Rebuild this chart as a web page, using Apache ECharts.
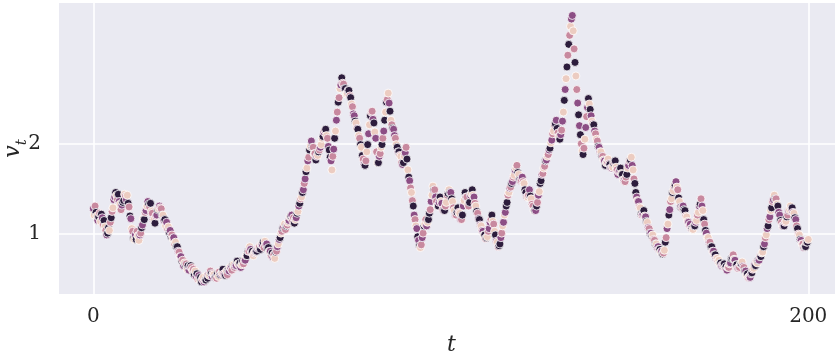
<!DOCTYPE html>
<html>
<head>
<meta charset="utf-8">
<script src="https://cdn.jsdelivr.net/npm/echarts@6/dist/echarts.min.js"></script>
<style>
  html, body { margin: 0; padding: 0; background: #ffffff; }
  #chart { width: 835px; height: 358px; }
</style>
</head>
<body>
<div id="chart"></div>
<script>
// Sampling step of the time grid (t = 0, 0.25, ..., 200)
const T_STEP = 0.25;

// Volatility path v_t, one value per time step (20 values = 5 time units per row)
const V = [
  1.28,1.21,1.31,1.24,1.20,1.15,1.19,1.23,1.14,1.22,1.18,1.10,1.15,1.08,1.04,0.99,1.01,1.07,1.04,1.13,
  1.18,1.25,1.29,1.38,1.41,1.46,1.43,1.38,1.44,1.36,1.33,1.27,1.32,1.35,1.37,1.44,1.42,1.38,1.43,1.34,
  1.30,1.20,1.17,1.06,1.03,0.95,0.94,0.99,0.94,1.03,0.98,0.93,0.99,1.01,1.07,1.10,1.17,1.16,1.24,1.26,
  1.31,1.36,1.33,1.30,1.34,1.25,1.23,1.16,1.16,1.12,1.20,1.21,1.27,1.28,1.31,1.29,1.28,1.21,1.21,1.15,
  1.16,1.09,1.13,1.06,1.08,1.02,1.04,0.97,0.99,0.95,0.96,0.89,0.91,0.86,0.86,0.81,0.80,0.75,0.75,0.70,
  0.71,0.65,0.68,0.66,0.67,0.61,0.65,0.60,0.64,0.65,0.63,0.60,0.61,0.55,0.59,0.53,0.56,0.50,0.54,0.49,
  0.52,0.47,0.50,0.52,0.47,0.49,0.49,0.54,0.51,0.55,0.54,0.59,0.56,0.53,0.56,0.55,0.52,0.52,0.51,0.56,
  0.53,0.58,0.55,0.56,0.57,0.61,0.56,0.55,0.54,0.59,0.55,0.60,0.59,0.63,0.62,0.60,0.66,0.66,0.63,0.65,
  0.65,0.70,0.67,0.66,0.68,0.63,0.66,0.70,0.67,0.71,0.71,0.76,0.76,0.81,0.81,0.86,0.83,0.80,0.81,0.76,
  0.79,0.80,0.81,0.81,0.84,0.85,0.86,0.83,0.88,0.88,0.91,0.85,0.92,0.88,0.89,0.84,0.85,0.81,0.81,0.76,
  0.79,0.74,0.77,0.73,0.80,0.81,0.86,0.89,0.94,0.96,1.01,1.03,1.07,1.08,1.11,1.05,1.09,1.10,1.13,1.15,
  1.19,1.20,1.21,1.15,1.18,1.12,1.16,1.18,1.23,1.25,1.31,1.34,1.39,1.41,1.46,1.49,1.56,1.61,1.69,1.73,
  1.81,1.85,1.93,1.97,2.03,1.96,1.96,1.89,1.89,1.82,1.86,1.87,1.91,1.93,1.96,1.99,2.06,2.08,2.13,2.15,
  2.16,2.09,2.06,1.97,1.93,1.85,1.81,1.71,1.86,1.94,2.06,2.14,2.26,2.35,2.46,2.51,2.61,2.65,2.73,2.67,
  2.66,2.61,2.61,2.55,2.56,2.59,2.59,2.53,2.51,2.44,2.41,2.33,2.31,2.25,2.23,2.17,2.16,2.09,2.06,1.99,
  1.96,1.87,1.83,1.77,1.76,1.81,1.91,1.99,2.11,2.21,2.31,2.35,2.36,2.27,2.23,2.13,2.06,1.91,1.79,1.79,
  1.86,1.89,1.96,1.99,2.06,2.14,2.26,2.35,2.46,2.49,2.56,2.45,2.36,2.26,2.21,2.17,2.16,2.09,2.06,1.99,
  1.96,1.91,1.91,1.87,1.86,1.79,1.77,1.79,1.86,1.90,1.96,1.83,1.71,1.63,1.59,1.51,1.46,1.37,1.31,1.21,
  1.16,1.09,1.06,0.97,0.93,0.87,0.85,0.88,0.96,1.01,1.09,1.11,1.16,1.09,1.13,1.16,1.23,1.27,1.36,1.43,
  1.53,1.49,1.49,1.41,1.36,1.31,1.31,1.35,1.41,1.36,1.34,1.27,1.26,1.26,1.31,1.35,1.43,1.45,1.49,1.46,
  1.46,1.39,1.36,1.29,1.26,1.21,1.21,1.24,1.29,1.24,1.23,1.16,1.16,1.21,1.31,1.37,1.46,1.41,1.41,1.33,
  1.31,1.35,1.43,1.45,1.49,1.43,1.41,1.34,1.31,1.25,1.23,1.17,1.16,1.10,1.09,1.04,1.03,0.99,0.99,0.95,
  0.96,0.97,1.03,1.06,1.13,1.16,1.21,1.14,1.11,1.03,0.99,0.92,0.91,0.86,0.87,0.89,0.96,1.01,1.09,1.13,
  1.21,1.24,1.31,1.35,1.43,1.46,1.51,1.52,1.56,1.58,1.63,1.65,1.71,1.73,1.76,1.68,1.66,1.60,1.59,1.59,
  1.63,1.58,1.56,1.49,1.46,1.41,1.41,1.43,1.49,1.42,1.39,1.33,1.31,1.26,1.26,1.26,1.31,1.35,1.43,1.47,
  1.56,1.59,1.66,1.67,1.73,1.75,1.81,1.82,1.86,1.88,1.93,1.95,2.01,2.04,2.11,2.14,2.21,2.22,2.26,2.17,
  2.12,2.08,2.05,2.10,2.15,2.25,2.35,2.48,2.60,2.72,2.85,2.98,3.10,3.20,3.30,3.38,3.42,3.25,3.05,2.90,
  2.75,2.60,2.45,2.32,2.20,2.10,2.00,1.92,1.88,1.95,2.05,2.18,2.30,2.40,2.50,2.44,2.38,2.31,2.25,2.22,
  2.21,2.14,2.11,2.05,2.03,1.97,1.96,1.91,1.91,1.86,1.86,1.82,1.81,1.76,1.79,1.80,1.83,1.78,1.77,1.73,
  1.73,1.74,1.79,1.80,1.81,1.74,1.71,1.66,1.69,1.70,1.73,1.67,1.66,1.60,1.59,1.58,1.63,1.66,1.73,1.76,
  1.81,1.82,1.85,1.76,1.71,1.61,1.56,1.46,1.41,1.37,1.36,1.30,1.29,1.22,1.21,1.22,1.26,1.20,1.19,1.14,
  1.13,1.07,1.06,1.01,1.01,0.98,0.99,0.94,0.93,0.89,0.89,0.85,0.86,0.83,0.83,0.80,0.81,0.78,0.79,0.82,
  0.91,0.96,1.06,1.11,1.21,1.27,1.36,1.39,1.46,1.48,1.53,1.54,1.58,1.52,1.49,1.40,1.36,1.30,1.29,1.29,
  1.31,1.27,1.26,1.20,1.19,1.14,1.13,1.10,1.11,1.06,1.06,1.05,1.09,1.09,1.13,1.15,1.21,1.24,1.31,1.33,
  1.39,1.31,1.26,1.16,1.11,1.04,1.01,0.96,0.96,0.91,0.91,0.86,0.86,0.81,0.81,0.77,0.77,0.73,0.73,0.70,
  0.71,0.67,0.68,0.65,0.66,0.66,0.67,0.63,0.64,0.60,0.63,0.63,0.67,0.68,0.73,0.74,0.77,0.72,0.71,0.66,
  0.66,0.62,0.63,0.63,0.67,0.67,0.69,0.64,0.63,0.59,0.59,0.55,0.56,0.52,0.53,0.52,0.56,0.57,0.61,0.62,
  0.66,0.65,0.69,0.68,0.71,0.71,0.75,0.75,0.79,0.80,0.86,0.89,0.96,0.99,1.06,1.09,1.16,1.19,1.26,1.29,
  1.36,1.38,1.43,1.39,1.39,1.33,1.31,1.24,1.21,1.15,1.13,1.09,1.09,1.09,1.13,1.14,1.19,1.21,1.26,1.27,
  1.31,1.28,1.29,1.24,1.23,1.18,1.16,1.09,1.06,1.00,0.99,0.94,0.93,0.89,0.89,0.85,0.86,0.86,0.91,0.91,
  0.94
];

// Hue level of each point (0 = lightest ... 3 = darkest)
const HUE = [
  2,0,1,3,0,2,3,1,0,3,2,1,3,0,1,2,3,3,0,1,
  3,1,0,2,2,3,0,1,3,2,0,1,2,3,3,0,1,2,0,3,
  1,3,2,0,1,3,0,2,3,1,0,0,2,1,3,2,0,3,1,2,
  0,2,3,1,3,0,1,2,0,3,1,2,3,0,2,1,1,3,0,2,
  3,0,2,1,0,3,2,3,1,0,2,1,0,3,3,2,1,0,2,3,
  1,2,0,3,1,0,3,2,2,3,1,0,1,3,0,2,3,1,2,0,
  3,3,1,0,2,1,3,0,3,2,0,1,3,2,1,0,2,3,1,3,
  0,1,3,2,0,3,1,2,3,0,1,3,2,0,2,1,3,0,1,2,
  2,3,0,1,3,2,0,3,1,1,2,0,3,3,1,0,2,1,3,0,
  1,0,2,3,2,0,1,3,0,2,3,1,0,1,2,3,3,0,2,1,
  3,2,1,0,3,1,2,0,2,3,0,1,3,2,0,1,3,1,0,2,
  0,3,2,1,1,3,0,2,3,0,2,3,1,0,3,2,1,2,3,0,
  2,1,3,0,2,3,1,0,1,3,2,0,3,1,2,0,0,3,2,1,
  3,0,1,2,3,3,2,0,1,2,3,0,2,1,3,1,0,2,3,1,
  1,2,3,0,0,2,3,1,3,0,1,2,2,3,0,1,3,0,1,3,
  0,3,1,2,3,1,0,3,2,0,3,1,1,2,3,0,2,1,0,3,
  2,1,0,3,1,2,3,0,3,1,0,2,3,0,1,3,2,2,1,0,
  3,2,3,1,0,1,2,3,0,2,1,3,0,3,2,1,0,1,3,2,
  1,0,2,3,2,3,0,1,2,1,3,0,1,2,0,3,3,1,2,0,
  0,3,1,2,1,0,3,2,3,0,2,1,2,3,1,0,1,3,0,3,
  2,3,0,1,0,2,1,3,3,1,0,2,1,3,2,0,3,2,1,0,
  1,3,2,0,3,0,2,1,0,3,1,2,3,2,0,1,2,0,3,1,
  3,0,1,2,2,1,3,0,1,0,3,2,0,1,3,3,2,1,0,2,
  0,2,3,3,1,0,2,1,3,2,1,0,2,0,1,3,0,3,2,1,
  2,1,0,3,3,2,0,1,2,3,0,1,1,0,3,2,3,1,2,0,
  3,3,2,1,0,1,3,2,0,1,2,3,0,2,1,0,1,3,2,3,
  1,0,3,2,1,2,0,3,2,0,3,1,3,1,0,2,2,0,1,3,
  0,1,2,3,2,3,1,0,3,1,0,2,1,2,3,0,3,2,0,1,
  3,2,1,0,1,3,2,2,0,3,1,0,2,3,0,1,0,1,3,2,
  2,0,3,1,3,0,1,2,1,2,3,0,3,0,2,1,1,3,0,2,
  1,3,0,2,0,1,3,3,2,0,2,1,0,3,1,2,3,0,2,3,
  0,2,1,3,2,3,0,1,1,3,0,2,2,1,3,0,2,3,1,0,
  3,1,2,0,3,2,1,0,3,0,1,3,2,0,1,3,0,2,3,1,
  2,3,3,1,0,0,2,1,2,1,3,0,1,3,2,0,1,0,2,3,
  1,2,0,3,1,3,2,0,0,2,1,3,3,0,2,1,3,2,0,1,
  0,0,3,2,2,1,3,1,3,2,0,1,0,2,3,3,1,0,2,1,
  3,1,2,1,0,3,0,2,1,3,2,0,3,1,0,2,2,3,1,0,
  2,3,1,0,3,2,1,3,0,0,3,2,1,0,2,3,1,2,0,3,
  1,2,0,3,1,0,3,2,2,3,1,0,2,3,1,0,3,1,2,0,
  0,1,3,2,0,3,2,1,3,1,0,3,2,0,1,2,0,3,1,3,
  0
];

// Tick positions
const X_TICKS = [0, 200];
const Y_TICKS = [1, 2];

// Sequential cubehelix-style palette for the hue levels
const PALETTE = ['#ecccc1', '#c8899f', '#8c4e85', '#2d1d3d'];

const points = V.map((v, i) => [i * T_STEP, v, HUE[i]]);

const TEXT = '#262626';
const SERIF = 'DejaVu Serif';

const chart = echarts.init(document.getElementById('chart'), null, { renderer: 'canvas' });

chart.setOption({
  animation: false,
  backgroundColor: '#ffffff',
  grid: {
    left: 59, right: -9, top: 3, bottom: 64,
    containLabel: false,
    outerBoundsMode: 'none',
    show: true, backgroundColor: '#eaeaf2', borderWidth: 0
  },
  xAxis: {
    type: 'value',
    min: -9.6, max: 210,
    name: '{t|t}',
    nameLocation: 'middle',
    nameGap: 40,
    nameMoveOverlap: false,
    nameTextStyle: {
      rich: { t: { fontFamily: SERIF, fontStyle: 'italic', fontSize: 22, color: TEXT } }
    },
    axisLine: { show: false },
    axisTick: { show: false, customValues: X_TICKS },
    axisLabel: {
      customValues: X_TICKS,
      fontFamily: SERIF, fontSize: 20, color: TEXT, margin: 13
    },
    splitLine: { show: true, lineStyle: { color: '#ffffff', width: 1.6 } }
  },
  yAxis: {
    type: 'value',
    min: 0.336, max: 3.558,
    name: '{v|v}{s|t}',
    nameLocation: 'middle',
    nameGap: 29,
    nameMoveOverlap: false,
    nameRotate: 90,
    nameTextStyle: {
      rich: {
        v: { fontFamily: SERIF, fontStyle: 'italic', fontSize: 22, lineHeight: 28, verticalAlign: 'top', color: TEXT },
        s: { fontFamily: SERIF, fontStyle: 'italic', fontSize: 15, lineHeight: 15, verticalAlign: 'bottom', color: TEXT }
      }
    },
    axisLine: { show: false },
    axisTick: { show: false, customValues: Y_TICKS },
    axisLabel: {
      customValues: Y_TICKS,
      fontFamily: SERIF, fontSize: 20, color: TEXT, margin: 18
    },
    splitLine: { show: true, lineStyle: { color: '#ffffff', width: 1.6 } }
  },
  series: [{
    type: 'scatter',
    data: points,
    symbol: 'circle',
    symbolSize: 8,
    itemStyle: {
      color: p => PALETTE[p.data[2]],
      borderColor: '#ffffff',
      borderWidth: 0.8,
      opacity: 1
    },
    emphasis: { disabled: true }
  }]
});
</script>
</body>
</html>
